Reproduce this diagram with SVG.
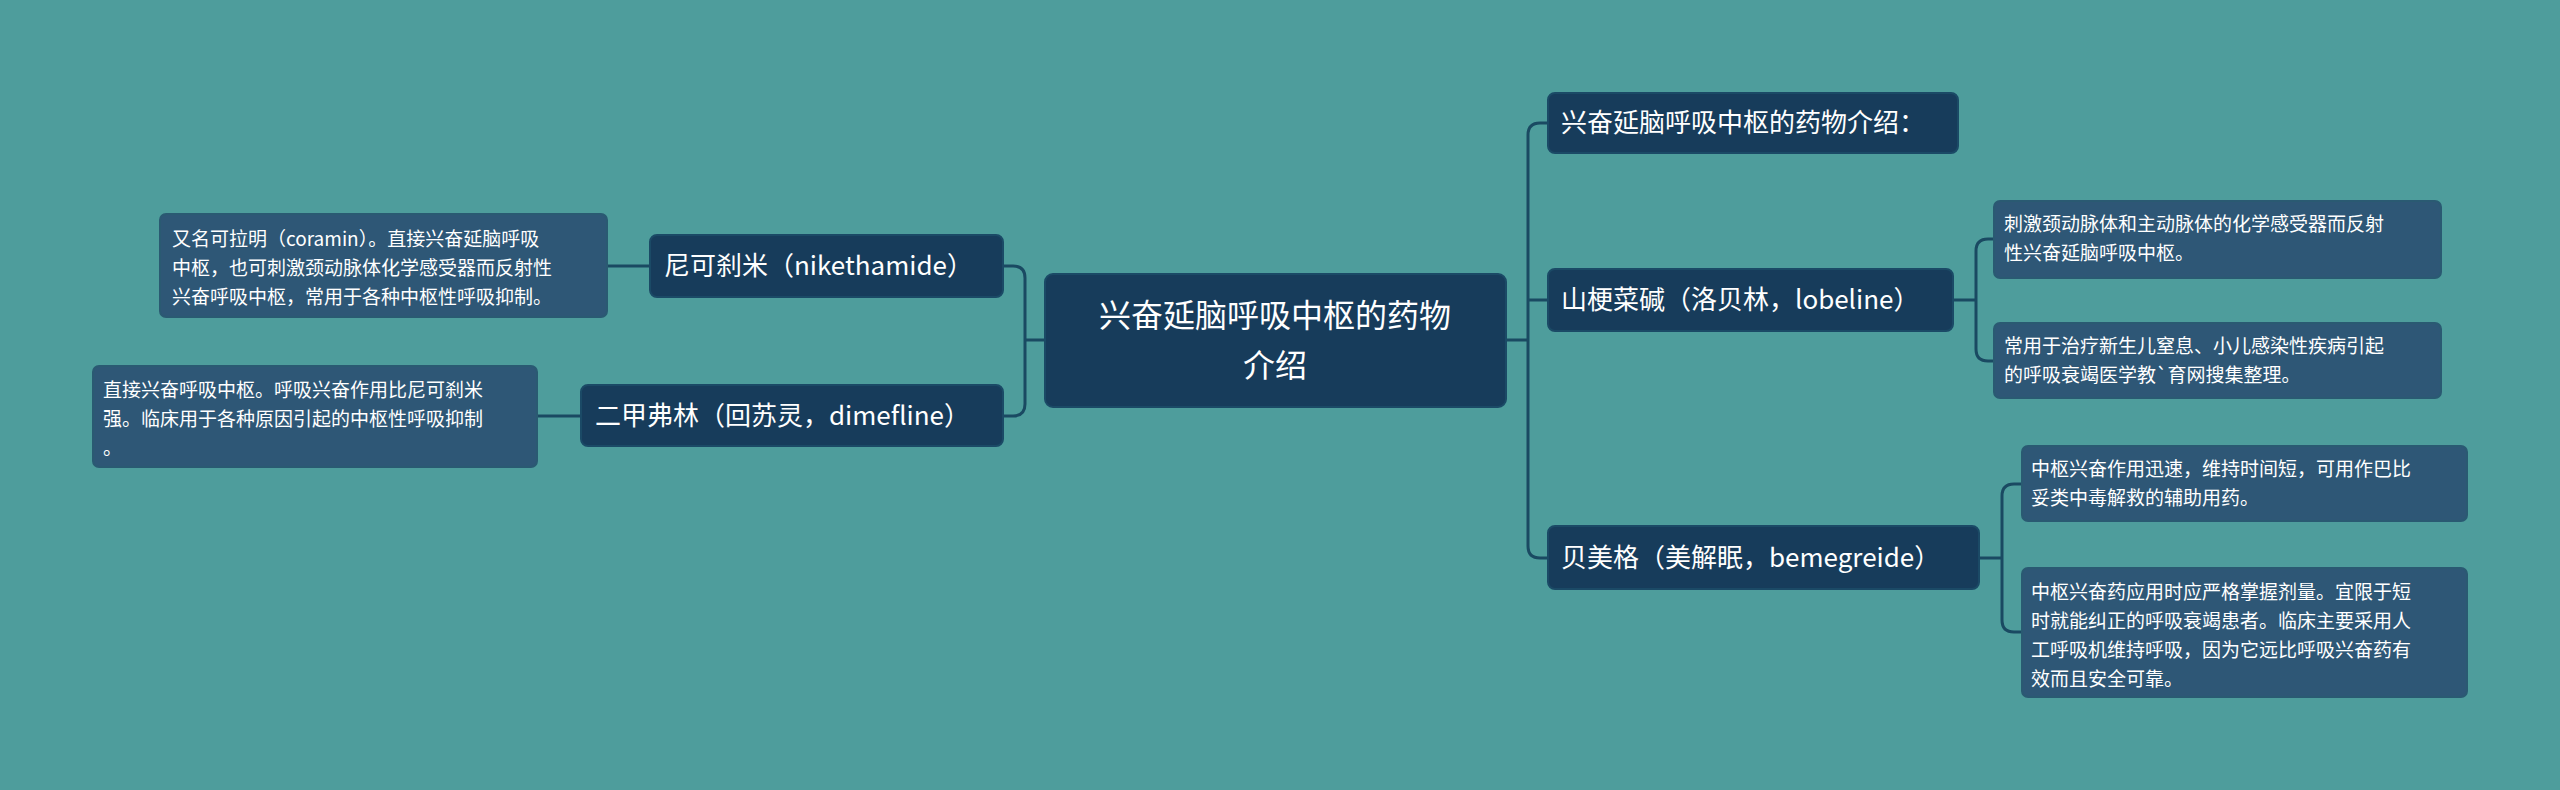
<svg xmlns="http://www.w3.org/2000/svg" width="2560" height="790" viewBox="0 0 2560 790">
<style>
text{font-family:"Noto Sans CJK SC","Liberation Sans",sans-serif;fill:#fff}
.m{fill:#173c5b;stroke:#1b4a66;stroke-width:2}
.l{fill:#2e5776;stroke:#2a5a72;stroke-width:2}
.c{fill:none;stroke:#1a4a62;stroke-width:3}
.t1{font-size:26px}.t2{font-size:19px}
</style>
<rect width="2560" height="790" fill="#4e9d9c"/>
<g id="connectors" class="c">
<path d="M1045 340 H1025 M1003 266 H1013 Q1025 266 1025 278 V404 Q1025 416 1013 416 H1003"/>
<path d="M650 266 H607 M581 416 H537"/>
<path d="M1506 340 H1528 M1548 123 H1540 Q1528 123 1528 135 V546 Q1528 558 1540 558 H1548 M1528 300 Q1528 300 1548 300"/>
<path d="M1953 300 H1976 M1994 239 H1988 Q1976 239 1976 251 V349 Q1976 361 1988 361 H1994"/>
<path d="M1979 558 H2002 M2022 484 H2014 Q2002 484 2002 496 V620 Q2002 632 2014 632 H2022"/>
</g>
<g id="center"><rect class="m" x="1045" y="274" width="461" height="133" rx="8"/>
<text x="1275" y="327" font-size="32" text-anchor="middle">兴奋延脑呼吸中枢的药物</text>
<text x="1275" y="377" font-size="32" text-anchor="middle">介绍</text></g>
<g id="n1"><rect class="m" x="650" y="235" width="353" height="62" rx="7"/><text class="t1" x="664" y="275">尼可刹米（nikethamide）</text></g>
<g id="n2"><rect class="m" x="581" y="385" width="422" height="61" rx="7"/><text class="t1" x="595" y="425">二甲弗林（回苏灵，dimefline）</text></g>
<g id="l1"><rect class="l" x="160" y="214" width="447" height="103" rx="6"/>
<text class="t2"><tspan x="172" y="246">又名可拉明（coramin）。直接兴奋延脑呼吸</tspan><tspan x="172" y="275">中枢，也可刺激颈动脉体化学感受器而反射性</tspan><tspan x="172" y="304">兴奋呼吸中枢，常用于各种中枢性呼吸抑制。</tspan></text></g>
<g id="l2"><rect class="l" x="93" y="366" width="444" height="101" rx="6"/>
<text class="t2"><tspan x="103" y="397">直接兴奋呼吸中枢。呼吸兴奋作用比尼可刹米</tspan><tspan x="103" y="426">强。临床用于各种原因引起的中枢性呼吸抑制</tspan><tspan x="103" y="455">。</tspan></text></g>
<g id="r1"><rect class="m" x="1548" y="93" width="410" height="60" rx="7"/><text class="t1" x="1561" y="132">兴奋延脑呼吸中枢的药物介绍：</text></g>
<g id="r2"><rect class="m" x="1548" y="269" width="405" height="62" rx="7"/><text class="t1" x="1561" y="309">山梗菜碱（洛贝林，lobeline）</text></g>
<g id="r3"><rect class="m" x="1548" y="526" width="431" height="63" rx="7"/><text class="t1" x="1561" y="567">贝美格（美解眠，bemegreide）</text></g>
<g id="r2a"><rect class="l" x="1994" y="201" width="447" height="77" rx="6"/>
<text class="t2"><tspan x="2004" y="231">刺激颈动脉体和主动脉体的化学感受器而反射</tspan><tspan x="2004" y="260">性兴奋延脑呼吸中枢。</tspan></text></g>
<g id="r2b"><rect class="l" x="1994" y="323" width="447" height="75" rx="6"/>
<text class="t2"><tspan x="2004" y="353">常用于治疗新生儿窒息、小儿感染性疾病引起</tspan><tspan x="2004" y="382">的呼吸衰竭医学教`育网搜集整理。</tspan></text></g>
<g id="r3a"><rect class="l" x="2022" y="446" width="445" height="75" rx="6"/>
<text class="t2"><tspan x="2031" y="476">中枢兴奋作用迅速，维持时间短，可用作巴比</tspan><tspan x="2031" y="505">妥类中毒解救的辅助用药。</tspan></text></g>
<g id="r3b"><rect class="l" x="2022" y="568" width="445" height="129" rx="6"/>
<text class="t2"><tspan x="2031" y="599">中枢兴奋药应用时应严格掌握剂量。宜限于短</tspan><tspan x="2031" y="628">时就能纠正的呼吸衰竭患者。临床主要采用人</tspan><tspan x="2031" y="657">工呼吸机维持呼吸，因为它远比呼吸兴奋药有</tspan><tspan x="2031" y="686">效而且安全可靠。</tspan></text></g>
</svg>
